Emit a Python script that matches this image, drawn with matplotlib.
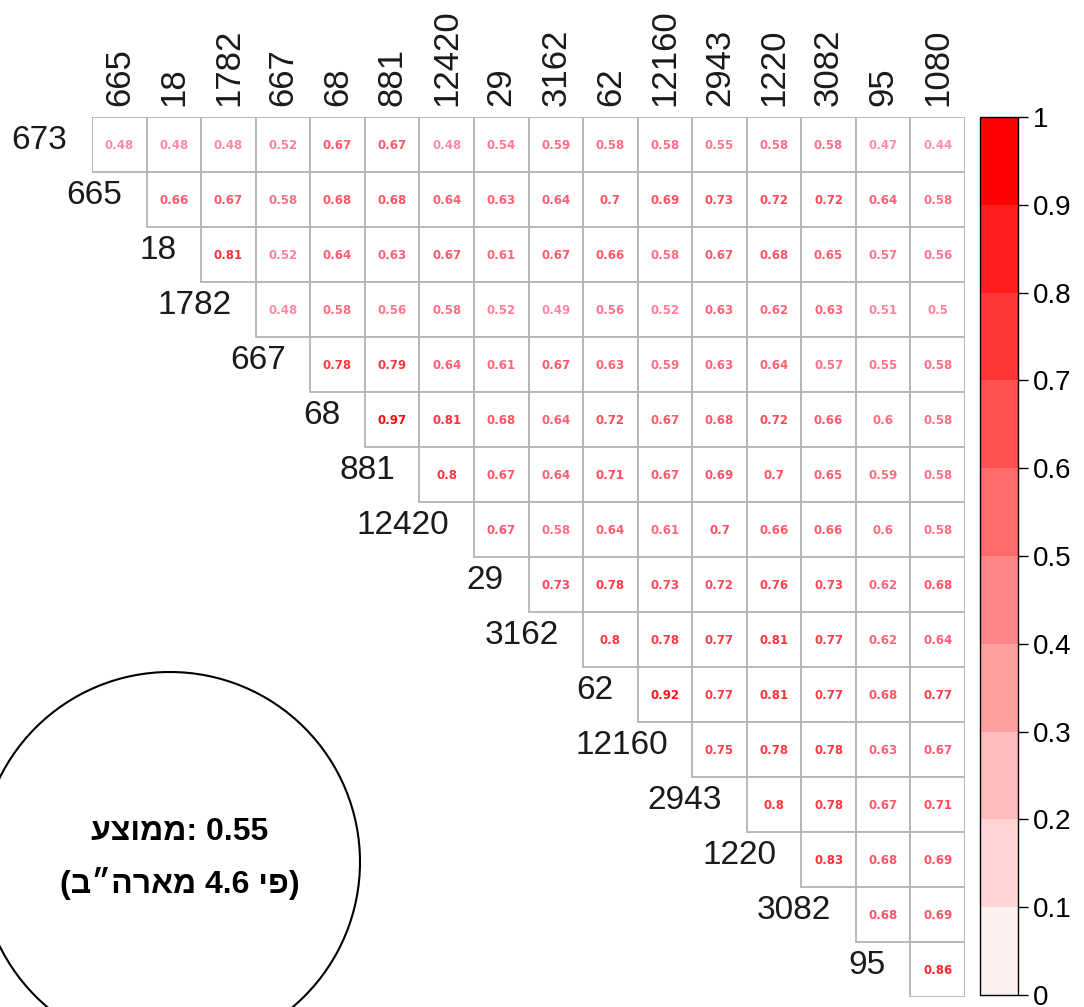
import matplotlib.pyplot as plt
import numpy as np
from matplotlib.colors import ListedColormap, BoundaryNorm
from matplotlib.patches import Rectangle, Circle
import matplotlib.colorbar as mcolorbar

plt.rcParams['font.family'] = ['Liberation Sans', 'DejaVu Sans']

col_labels = ['665', '18', '1782', '667', '68', '881', '12420', '29', '3162',
              '62', '12160', '2943', '1220', '3082', '95', '1080']
row_labels = ['673', '665', '18', '1782', '667', '68', '881', '12420', '29',
              '3162', '62', '12160', '2943', '1220', '3082', '95']

# upper triangle, row i starts at column i
rows = [
    [0.48, 0.48, 0.48, 0.52, 0.67, 0.67, 0.48, 0.54, 0.59, 0.58, 0.58, 0.55, 0.58, 0.58, 0.47, 0.44],
    [0.66, 0.67, 0.58, 0.68, 0.68, 0.64, 0.63, 0.64, 0.7, 0.69, 0.73, 0.72, 0.72, 0.64, 0.58],
    [0.81, 0.52, 0.64, 0.63, 0.67, 0.61, 0.67, 0.66, 0.58, 0.67, 0.68, 0.65, 0.57, 0.56],
    [0.48, 0.58, 0.56, 0.58, 0.52, 0.49, 0.56, 0.52, 0.63, 0.62, 0.63, 0.51, 0.5],
    [0.78, 0.79, 0.64, 0.61, 0.67, 0.63, 0.59, 0.63, 0.64, 0.57, 0.55, 0.58],
    [0.97, 0.81, 0.68, 0.64, 0.72, 0.67, 0.68, 0.72, 0.66, 0.6, 0.58],
    [0.8, 0.67, 0.64, 0.71, 0.67, 0.69, 0.7, 0.65, 0.59, 0.58],
    [0.67, 0.58, 0.64, 0.61, 0.7, 0.66, 0.66, 0.6, 0.58],
    [0.73, 0.78, 0.73, 0.72, 0.76, 0.73, 0.62, 0.68],
    [0.8, 0.78, 0.77, 0.81, 0.77, 0.62, 0.64],
    [0.92, 0.77, 0.81, 0.77, 0.68, 0.77],
    [0.75, 0.78, 0.78, 0.63, 0.67],
    [0.8, 0.78, 0.67, 0.71],
    [0.83, 0.68, 0.69],
    [0.68, 0.69],
    [0.86],
]

# hebrew written in display order (no bidi in matplotlib)
mean_text = 'עצוממ: 0.55'
ratio_text = '(ב״הראמ 4.6 יפ)'

W, H = 1084, 1007
fig = plt.figure(figsize=(W / 100, H / 100), dpi=100)

# white -> red in 10 steps
levels = np.linspace(0, 1, 11)
reds = [(1.0, max(0, 0.94 - 0.104 * k), max(0, 0.94 - 0.104 * k)) for k in range(10)]
cmap = ListedColormap(reds)
norm = BoundaryNorm(levels, cmap.N)

n = len(col_labels)
ax = fig.add_axes([92 / W, 10 / H, 873 / W, 880 / H])
ax.set_xlim(0, n)
ax.set_ylim(n, 0)
ax.axis('off')

for i, vals in enumerate(rows):
    for k, v in enumerate(vals):
        j = i + k
        ax.add_patch(Rectangle((j, i), 1, 1, facecolor='white', edgecolor='#b4b4b4', lw=1.3))
        g = float(np.clip(1.3 - 1.3 * v, 0.0, 0.7))
        ax.text(j + 0.5, i + 0.52, str(v), ha='center', va='center', fontsize=8.5,
                fontweight='bold', color=(1.0, g * 0.8, g * 0.95), family='DejaVu Sans')
    ax.text(i - 0.45, i + 0.42, row_labels[i], ha='right', va='center', fontsize=24,
            color='#1a1a1a')

for j, lab in enumerate(col_labels):
    ax.text(j + 0.5, -0.2, lab, rotation=90, ha='center', va='bottom', fontsize=25,
            color='#1a1a1a', clip_on=False)

cax = fig.add_axes([980 / W, 12 / H, 38 / W, 878 / H])
cb = mcolorbar.ColorbarBase(cax, cmap=cmap, norm=norm, orientation='vertical',
                            ticks=levels)
cb.set_ticklabels(['0', '0.1', '0.2', '0.3', '0.4', '0.5', '0.6', '0.7', '0.8', '0.9', '1'])
cax.tick_params(labelsize=20, length=7, width=1)
cb.outline.set_linewidth(1)

# annotation circle
ov = fig.add_axes([0, 0, 1, 1], facecolor='none')
ov.set_xlim(0, W)
ov.set_ylim(H, 0)
ov.axis('off')
ov.add_patch(Circle((170, 862), 190, facecolor='white', edgecolor='black', lw=1.5))
ov.text(180, 832, mean_text, ha='center', va='center', fontsize=23, fontweight='bold')
ov.text(180, 883, ratio_text, ha='center', va='center', fontsize=23, fontweight='bold')

fig.savefig('out.png', dpi=100)
